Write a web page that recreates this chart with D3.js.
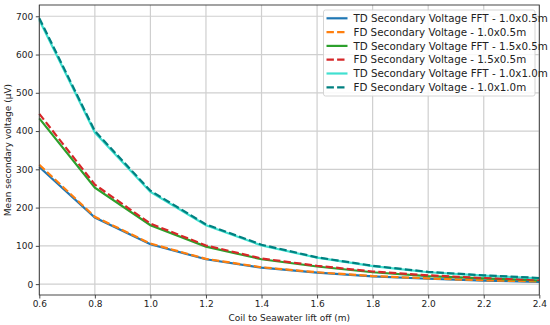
<!DOCTYPE html>
<html>
<head>
<meta charset="utf-8">
<script src="https://cdn.jsdelivr.net/npm/d3@7"></script>
<style>
  html, body { margin: 0; padding: 0; background: #fff; }
  svg { display: block; font-family: "DejaVu Sans", sans-serif; }
</style>
</head>
<body>
<svg id="chart" width="550" height="325"></svg>
<script>
const liftOff = [0.6, 0.8, 1.0, 1.2, 1.4, 1.6, 1.8, 2.0, 2.2, 2.4];
const td10x05 = [306, 174, 104, 65, 43, 30, 20, 14, 9, 6];
const fd10x05 = [312, 176, 106, 66, 44, 31, 21, 15, 10, 7];
const td15x05 = [433, 252, 154, 98, 65, 46, 31, 21, 15, 10];
const fd15x05 = [445, 260, 158, 101, 67, 48, 33, 23, 16, 11];
const td10x10 = [690, 396, 241, 154, 101, 69, 47, 31, 22, 15];
const fd10x10 = [695, 400, 244, 156, 103, 70, 48, 32, 23, 16];
const seriesNames = [
  "TD Secondary Voltage FFT - 1.0x0.5m",
  "FD Secondary Voltage - 1.0x0.5m",
  "TD Secondary Voltage FFT - 1.5x0.5m",
  "FD Secondary Voltage - 1.5x0.5m",
  "TD Secondary Voltage FFT - 1.0x1.0m",
  "FD Secondary Voltage - 1.0x1.0m"
];
const xTicks = [0.6, 0.8, 1.0, 1.2, 1.4, 1.6, 1.8, 2.0, 2.2, 2.4];
const yTicks = [0, 100, 200, 300, 400, 500, 600, 700];

const seriesValues = [td10x05, fd10x05, td15x05, fd15x05, td10x10, fd10x10];
const colors = ["#1f77b4", "#ff7f0e", "#2ca02c", "#d62728", "#40e0d0", "#008080"];
const dashed = [false, true, false, true, false, true];

const svg = d3.select("#chart");
const m = { left: 39.3, right: 539.3, top: 5, bottom: 295 };

const allVals = seriesValues.flat();
const vmin = d3.min(allVals), vmax = d3.max(allVals);
const pad = (vmax - vmin) * 0.05;
const x = d3.scaleLinear().domain([0.6, 2.4]).range([m.left, m.right]);
const y = d3.scaleLinear().domain([vmin - pad, vmax + pad]).range([m.bottom, m.top]);

// grid
const grid = svg.append("g");
grid.selectAll("line.vx").data(xTicks).enter().append("line")
  .attr("x1", d => x(d)).attr("x2", d => x(d))
  .attr("y1", m.top).attr("y2", m.bottom)
  .attr("stroke", "#cfcfcf").attr("stroke-width", 1.2);
grid.selectAll("line.hy").data(yTicks).enter().append("line")
  .attr("x1", m.left).attr("x2", m.right)
  .attr("y1", d => y(d)).attr("y2", d => y(d))
  .attr("stroke", "#cfcfcf").attr("stroke-width", 1.2);

// lines
const line = d3.line().x((d, i) => x(liftOff[i])).y(d => y(d));
seriesValues.forEach((vals, k) => {
  svg.append("path")
    .datum(vals)
    .attr("d", line)
    .attr("fill", "none")
    .attr("stroke", colors[k])
    .attr("stroke-width", 2.2)
    .attr("stroke-dasharray", dashed[k] ? "7.4,3.2" : null);
});

// frame
svg.append("rect")
  .attr("x", m.left).attr("y", m.top)
  .attr("width", m.right - m.left).attr("height", m.bottom - m.top)
  .attr("fill", "none").attr("stroke", "#333").attr("stroke-width", 0.9);

// axes
const xAxis = d3.axisBottom(x).tickValues(xTicks).tickFormat(d3.format(".1f")).tickSize(3.5).tickPadding(2.5);
const gx = svg.append("g").attr("transform", `translate(0,${m.bottom})`).call(xAxis);
gx.select(".domain").remove();
gx.selectAll("line").attr("stroke", "#333").attr("stroke-width", 0.9);
gx.selectAll("text").attr("font-size", 9).attr("fill", "#222").attr("font-family", "DejaVu Sans");

const yAxis = d3.axisLeft(y).tickValues(yTicks).tickFormat(d3.format("d")).tickSize(3.5).tickPadding(2.5);
const gy = svg.append("g").attr("transform", `translate(${m.left},0)`).call(yAxis);
gy.select(".domain").remove();
gy.selectAll("line").attr("stroke", "#333").attr("stroke-width", 0.9);
gy.selectAll("text").attr("font-size", 9).attr("fill", "#222").attr("font-family", "DejaVu Sans");

// axis titles
svg.append("text")
  .attr("x", (m.left + m.right) / 2).attr("y", 320.5)
  .attr("text-anchor", "middle").attr("font-size", 9).attr("fill", "#222")
  .text("Coil to Seawater lift off (m)");
svg.append("text")
  .attr("transform", `translate(11,${(m.top + m.bottom) / 2}) rotate(-90)`)
  .attr("text-anchor", "middle").attr("font-size", 9).attr("fill", "#222")
  .text("Mean secondary voltage (μV)");

// legend
const lg = svg.append("g");
lg.append("rect")
  .attr("x", 323.5).attr("y", 10).attr("width", 211.5).attr("height", 86)
  .attr("rx", 2).attr("fill", "#fff").attr("fill-opacity", 0.85)
  .attr("stroke", "#d0d0d0").attr("stroke-width", 0.9);
seriesNames.forEach((name, k) => {
  const cy = 18.3 + k * 13.8;
  lg.append("line")
    .attr("x1", 326.5).attr("x2", 347.5).attr("y1", cy).attr("y2", cy)
    .attr("stroke", colors[k]).attr("stroke-width", 2.2)
    .attr("stroke-dasharray", dashed[k] ? "7.4,3.2" : null);
  lg.append("text")
    .attr("x", 353.5).attr("y", cy + 3.6)
    .attr("font-size", 10.3).attr("fill", "#222")
    .text(name);
});
</script>
</body>
</html>
